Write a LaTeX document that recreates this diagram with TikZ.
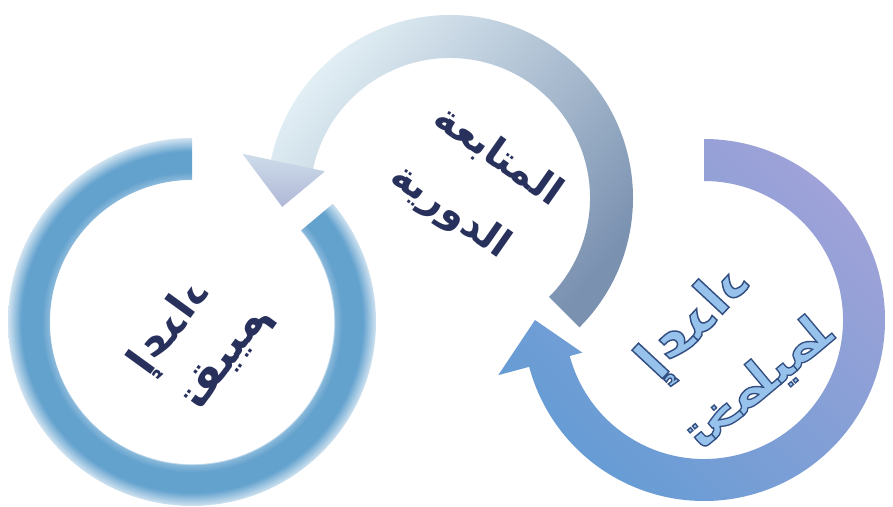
\documentclass[tikz,border=0pt]{standalone}
\usepackage{fontspec}
\usepackage{graphicx}
\usetikzlibrary{calc}
\TeXXeTstate=1
\newfontfamily\arabicfont[Script=Arabic]{DejaVu Sans}
\definecolor{lb}{RGB}{100,162,206}
\definecolor{mL}{RGB}{234,246,250}
\definecolor{mD}{RGB}{122,145,176}
\definecolor{mAt}{RGB}{206,220,234}
\definecolor{mAb}{RGB}{176,184,214}
\definecolor{rB}{RGB}{100,156,212}
\definecolor{rP}{RGB}{158,162,216}
\definecolor{navy}{RGB}{40,48,92}
\definecolor{olf}{RGB}{150,194,236}
\pgfdeclareradialshading{lringshade}{\pgfpoint{0bp}{0bp}}{color(0bp)=(white);color(19.2bp)=(white);color(19.4bp)=(lb!75!white);color(20.4bp)=(lb);color(23.2bp)=(lb);color(25bp)=(lb!30!white);color(50bp)=(white)}
\tikzset{artxt/.style={font=\arabicfont\bfseries, inner sep=0pt}}
\newcommand\olt[2]{\resizebox{#1}{!}{\fontsize{60}{70}\selectfont\special{pdf:literal direct 2 Tr 1.6 w 0.2 0.31 0.51 RG}\beginR #2\endR\special{pdf:literal direct 0 Tr}}}
\begin{document}
\begin{tikzpicture}[x=1pt,y=1pt]
\useasboundingbox (0,0) rectangle (893,506);
\fill[white] (0,0) rectangle (893,506);
\coordinate (Lc) at (192,184);
\coordinate (Mc) at (450,308);
\coordinate (Rc) at (704,186);
% left ring
\begin{scope}
\clip ($(Lc)+(90:184pt)$) arc[start angle=90,end angle=400,radius=184pt] -- ($(Lc)+(40:142pt)$) arc[start angle=400,end angle=90,radius=142pt] -- cycle;
\shade[shading=lringshade] (Lc) circle[radius=184pt];
\end{scope}
% middle arrow
\shade[left color=mL, right color=mD, shading angle=50] ($(Mc)+(-45:183pt)$) arc[start angle=-45,end angle=168,radius=183pt] -- ($(Mc)+(168:212pt)$) -- ($(Mc)+(183:168pt)$) -- ($(Mc)+(168:128pt)$) -- ($(Mc)+(168:140pt)$) arc[start angle=168,end angle=-45,radius=140pt] -- cycle;
\shade[top color=mAt, bottom color=mAb] ($(Mc)+(168:212pt)$) -- ($(Mc)+(183:168pt)$) -- ($(Mc)+(168:128pt)$) -- cycle;
% right arrow
\shade[left color=rB, right color=rP, shading angle=135] ($(Rc)+(90:181pt)$) arc[start angle=90,end angle=-165,radius=181pt] -- ($(Rc)+(-165:213pt)$) -- ($(Rc)+(180:169pt)$) -- ($(Rc)+(-165:126pt)$) -- ($(Rc)+(-165:139pt)$) arc[start angle=-165,end angle=90,radius=139pt] -- cycle;
% left text
\node[artxt, text=navy, rotate=54, xscale=-1] (lt1) at (171,178) {\resizebox{105pt}{!}{\beginR إعداد\endR}};
\node[artxt, text=navy, rotate=54, xscale=-1] (lt2) at (228,148) {\resizebox{120pt}{!}{\beginR تقييم\endR}};
% middle text
\node[artxt, text=navy, rotate=-35] (mt1) at (498,350) {\resizebox{146pt}{!}{\beginR المتابعة\endR}};
\node[artxt, text=navy, rotate=-35] (mt2) at (450,294) {\resizebox{136pt}{!}{\beginR الدورية\endR}};
% right text (outlined)
\node[artxt, text=olf, rotate=47, xscale=-1] (rt1) at (695,183) {\olt{135pt}{إعداد}};
\node[artxt, text=olf, rotate=40, xscale=-1] (rt2) at (760,124) {\olt{180pt}{تخطيط}};
\end{tikzpicture}
\end{document}
